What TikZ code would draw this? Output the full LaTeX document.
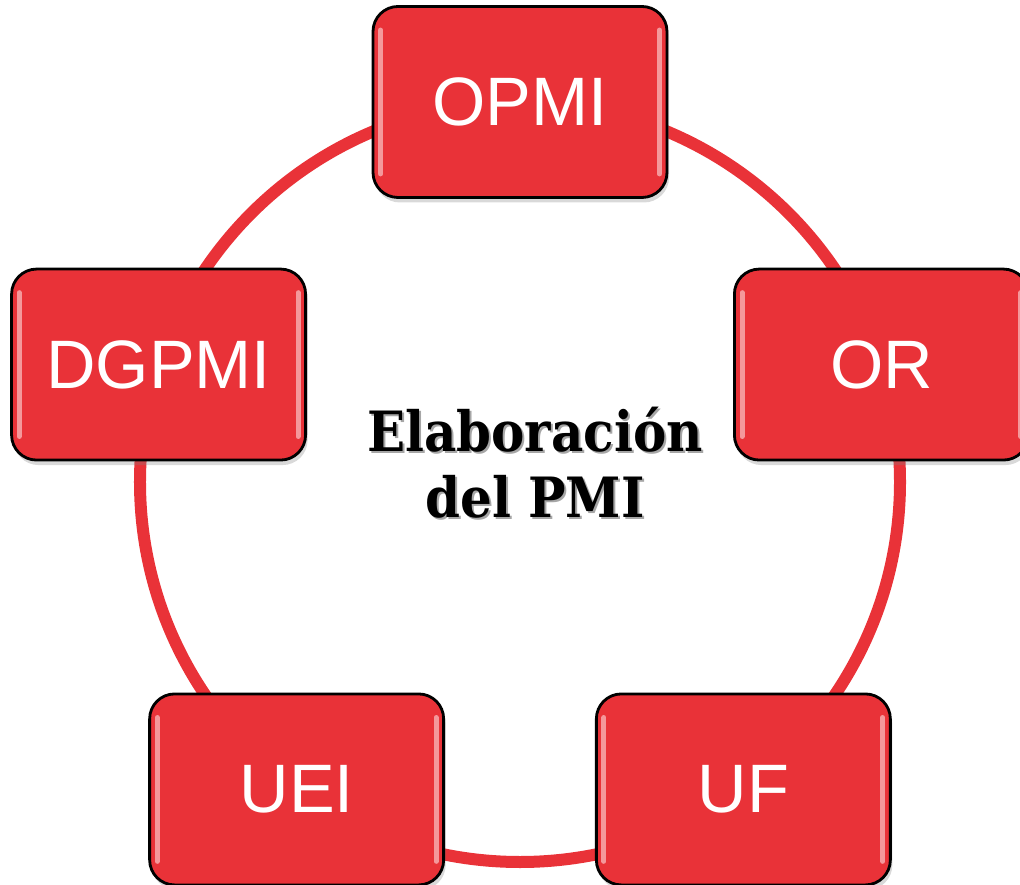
\documentclass[tikz,border=0pt]{standalone}
\usepackage{fontspec}
\setmainfont{Liberation Sans}
\newfontfamily\slabfont{DejaVu Serif Condensed}
\usetikzlibrary{shadows}
\definecolor{boxred}{RGB}{233,50,56}
\tikzset{
  stage/.style={draw=black, line width=0.8pt, fill=boxred, rounded corners=0.25cm,
    minimum width=2.94cm, minimum height=1.91cm, text=white,
    font=\fontsize{19.5}{22}\selectfont,
    drop shadow={opacity=0.3, shadow xshift=0.02cm, shadow yshift=-0.05cm}},
  ring/.style={draw=boxred, line width=0.12cm},
  shine/.style={white, opacity=0.5, line width=0.05cm, line cap=round},
  caption/.style={anchor=base, font=\slabfont\bfseries\fontsize{15.8}{18}\selectfont},
}

\begin{document}
\begin{tikzpicture}
\useasboundingbox (-5.2,-4.02) rectangle (5.0,4.82);
\coordinate (hub) at (0,0);
\draw[ring] (hub) circle[radius=3.8cm];
\node[stage] (opmi) at (90:3.8) {OPMI};
\node[stage] (or) at (18:3.8) {OR};
\node[stage] (uf) at (-54:3.8) {UF};
\node[stage] (uei) at (-126:3.8) {UEI};
\node[stage] (dgpmi) at (162:3.8) {DGPMI};
\foreach \n in {opmi,or,uf,uei,dgpmi} {
  \draw[shine] ([shift={(0.09,-0.25)}]\n.north west) -- ([shift={(0.09,0.25)}]\n.south west);
  \draw[shine] ([shift={(-0.09,-0.25)}]\n.north east) -- ([shift={(-0.09,0.25)}]\n.south east);
}
\node[caption, text=black!35] (topshade) at (0.17,0.28) {Elaboración};
\node[caption, text=black!35] (bottomshade) at (0.17,-0.38) {del PMI};
\node[caption] (toptitle) at (0.15,0.30) {Elaboración};
\node[caption] (bottomtitle) at (0.15,-0.36) {del PMI};
\end{tikzpicture}
\end{document}
